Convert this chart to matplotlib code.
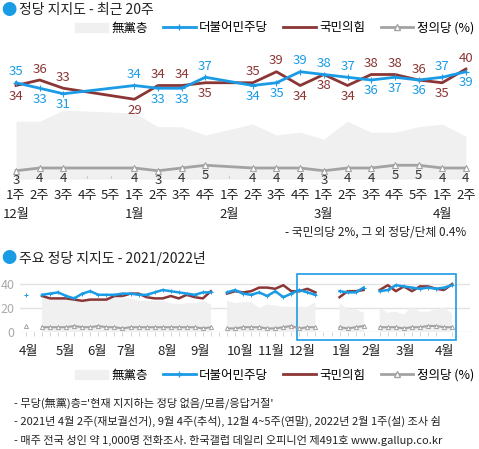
import numpy as np
import matplotlib
matplotlib.use("Agg")
import matplotlib.pyplot as plt
from matplotlib.patches import Rectangle, Patch
from matplotlib.lines import Line2D

plt.rcParams['font.family'] = ['Noto Sans CJK KR', 'DejaVu Sans']

nan = np.nan
# weekly series 2021 Apr 1주 .. 2022 Apr 2주 (54 weeks), nan = no survey
minjoo = [31, nan] + [31, 32, 33, 30, 28, 32, 34, 31, 31, 31, 32, 32, 31, 31, 33, 35, 34, 33, 32, 31, 33, 33] + [nan] \
    + [33, 35, 32, 31, 33, 30, 34, 29, 32, 35, 33, 31] + [nan, nan] + [34, 33, 33, 37] + [nan] \
    + [34, 35, 39, 38, 37, 36, 37, 36, 37, 39]
ppp = [nan, nan] + [30, 28, 28, 28, 27, 26, 27, 27, 27, 30, 30, 32, 32, 29, 28, 28, 30, 28, 31, 29, 28, 34] + [nan] \
    + [32, 34, 33, 34, 37, 37, 36, 39, 34, 34, 36, 33] + [nan, nan] + [29, 34, 34, 35] + [nan] \
    + [35, 39, 34, 38, 34, 38, 38, 36, 35, 40]
justice = [5, nan] + [4, 4, 4, 4, 5, 4, 4, 5, 4, 4, 3, 4, 4, 4, 4, 4, 4, 4, 4, 4, 3, 4] + [nan] \
    + [3, 3, 4, 4, 4, 3, 3, 4, 5, 3, 4, 4] + [nan, nan] + [4, 3, 4, 5] + [nan] \
    + [4, 4, 4, 3, 4, 4, 5, 5, 4, 4]
noparty = [nan, nan] + [28, 28, 28, 28, 27, 27, 28, 27, 28, 28, 28, 28, 26, 26, 26, 26, 24, 23, 24, 24, 26, 23] + [nan] \
    + [26, 24, 25, 25, 20, 23, 22, 21, 21, 21, 21, 25] + [nan, nan] + [24, 19, 19, 16] + [nan] \
    + [20, 16, 17, 14.5, 21, 17, 17, 19, 20, 15.5]

week_labels = ["1주", "2주", "3주", "4주", "5주", "1주", "2주", "3주", "4주", "1주", "2주", "3주", "4주",
               "1주", "2주", "3주", "4주", "5주", "1주", "2주"]
top_months = {0: "12월", 5: "1월", 9: "2월", 13: "3월", 18: "4월"}
month_pos = [0.3, 4.9, 8.8, 12.5, 17.5, 21.6, 26.6, 30.5, 34.3, 39.3, 43, 47.2, 52]
month_names = ["4월", "5월", "6월", "7월", "8월", "9월", "10월", "11월", "12월", "1월", "2월", "3월", "4월"]

BLUE = "#1a9be6"
RED = "#8b3535"
GRAY = "#a3a3a3"
AREA = "#f0f0f0"

minjoo = np.array(minjoo, float)
ppp = np.array(ppp, float)
justice = np.array(justice, float)
noparty = np.array(noparty, float)
weeks = np.arange(len(minjoo))

fig = plt.figure(figsize=(4.79, 4.49), dpi=100)

# ---------- top: last 20 weeks ----------
W, H = 479, 449
ax = fig.add_axes([0, (H - 179) / H, 1, 134 / H])
ax.set_xlim(-16 / 23.68, 463 / 23.68)
ax.set_ylim(0, 134 / 2.75)
ax.axis("off")
t_b, t_r, t_j, t_n = minjoo[-20:], ppp[-20:], justice[-20:], noparty[-20:]
x = np.arange(20)
ok = ~np.isnan(t_b)
ax.fill_between(x[ok], 0, t_n[ok], color=AREA, lw=0)
ax.plot(x[ok], t_j[ok], color=GRAY, lw=2, marker="^", ms=4, mfc="white", mec=GRAY, mew=0.8)
ax.plot(x[ok], t_r[ok], color=RED, lw=2)
ax.plot(x[ok], t_b[ok], color=BLUE, lw=2, marker="+", ms=4, mew=0.8)
ax.plot([-0.05, 19.05], [0, 0], color="#dddddd", lw=1)
for i in range(20):
    ax.plot([i, i], [0, 1.2], color="#cccccc", lw=0.8)
    if not ok[i]:
        continue
    b_up = t_b[i] >= t_r[i] and i != 17
    ax.text(i, t_b[i] + (1.6 if b_up else -1.6), f"{t_b[i]:.0f}", color=BLUE, fontsize=9.5,
            ha="center", va="bottom" if b_up else "top")
    ax.text(i, t_r[i] + (-1.6 if b_up else 1.6), f"{t_r[i]:.0f}", color=RED, fontsize=9.5,
            ha="center", va="top" if b_up else "bottom")
    ax.text(i, t_j[i] - 1.3, f"{t_j[i]:.0f}", color="#333333", fontsize=9.5, ha="center", va="top")
for i, w in enumerate(week_labels):
    ax.text(i, -3.6, w, fontsize=9.5, ha="center", va="top", color="#222222")
for i, m in top_months.items():
    ax.text(i, -10.4, m, fontsize=9.5, ha="center", va="top", color="#222222")

fig.text(1 / W, 1 - 10 / H, "●", color=BLUE, fontsize=11, va="center")
fig.text(19 / W, 1 - 10 / H, "정당 지지도 - 최근 20주", fontsize=10, va="center", color="#222222")
fig.text(466 / W, 1 - 232 / H, "- 국민의당 2%, 그 외 정당/단체 0.4%", fontsize=8.5, ha="right", va="center",
         color="#222222")

handles = [Patch(color=AREA, label="無黨층"),
           Line2D([], [], color=BLUE, lw=2, marker="+", ms=4, label="더불어민주당"),
           Line2D([], [], color=RED, lw=2, label="국민의힘"),
           Line2D([], [], color=GRAY, lw=2, marker="^", ms=4, mfc="white", label="정의당 (%)")]
fig.legend(handles=handles, loc="center right", bbox_to_anchor=(1.0, 1 - 28 / H), ncol=4, frameon=False,
           fontsize=9, handlelength=2.6, handletextpad=0.3, columnspacing=1.2, borderaxespad=0)

# ---------- bottom: 2021/2022 ----------
bx = fig.add_axes([20 / W, (H - 332) / H, 450 / W, 57 / H])
bx.set_xlim(-6 / 8.04, 444 / 8.04)
bx.set_ylim(0, 47.5)
for s in bx.spines.values():
    s.set_visible(False)
bx.set_yticks([0, 20, 40])
bx.tick_params(axis="y", length=0, labelsize=9, labelcolor="#aaaaaa", pad=4)
bx.grid(axis="y", color="#e2e2e2", lw=1)
bx.set_axisbelow(True)
bx.set_xticks(month_pos)
bx.set_xticklabels(month_names, fontsize=9.5, color="#222222")
bx.set_xticks(weeks, minor=True)
bx.tick_params(axis="x", which="major", length=0, pad=9)
bx.tick_params(axis="x", which="minor", length=3, color="#cccccc")
bx.fill_between(weeks, 0, noparty, color=AREA, lw=0)
bx.plot(weeks, justice, color=GRAY, lw=1.5, marker="^", ms=3, mfc="white", mec=GRAY, mew=0.7)
bx.plot(weeks, ppp, color=RED, lw=1.8)
bx.plot(weeks, minjoo, color=BLUE, lw=1.8, marker="+", ms=3, mew=0.7)
bx.add_patch(Rectangle((33.7, -6.7), 19.8, 54.7, fill=False, ec=BLUE, lw=1.2, clip_on=False))

fig.text(1 / W, 1 - 258 / H, "●", color=BLUE, fontsize=11, va="center")
fig.text(19 / W, 1 - 258 / H, "주요 정당 지지도 - 2021/2022년", fontsize=10, va="center", color="#222222")
fig.legend(handles=handles, loc="center right", bbox_to_anchor=(1.0, 1 - 375 / H), ncol=4, frameon=False,
           fontsize=9, handlelength=2.6, handletextpad=0.3, columnspacing=1.2, borderaxespad=0)

notes = ["- 무당(無黨)층='현재 지지하는 정당 없음/모름/응답거절'",
         "- 2021년 4월 2주(재보궐선거), 9월 4주(추석), 12월 4~5주(연말), 2022년 2월 1주(설) 조사 쉼",
         "- 매주 전국 성인 약 1,000명 전화조사. 한국갤럽 데일리 오피니언 제491호 www.gallup.co.kr"]
for k, n in enumerate(notes):
    fig.text(14 / W, 1 - (403 + 18.5 * k) / H, n, fontsize=8, va="center", color="#222222")

fig.savefig("out.png", dpi=100)
